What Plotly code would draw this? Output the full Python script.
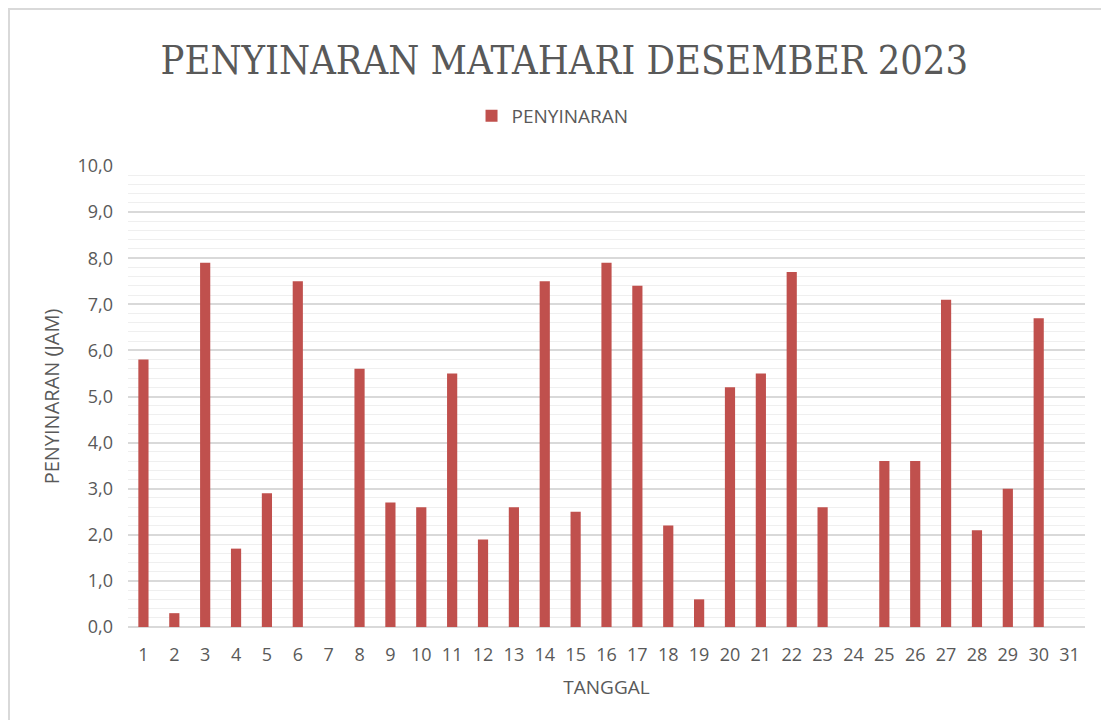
import plotly.graph_objects as go

tanggal = [str(i) for i in range(1, 32)]
penyinaran = [5.8, 0.3, 7.9, 1.7, 2.9, 7.5, None, 5.6, 2.7, 2.6, 5.5, 1.9, 2.6, 7.5, 2.5,
              7.9, 7.4, 2.2, 0.6, 5.2, 5.5, 7.7, 2.6, None, 3.6, 3.6, 7.1, 2.1, 3.0, 6.7, None]
y_ticks = [0, 1, 2, 3, 4, 5, 6, 7, 8, 9, 10]
y_labels = [f"{v},0" for v in y_ticks]

W, H = 1093, 712
L, R, T, B = 120, 16, 158, 93
PW, PH = W - L - R, H - T - B

fig = go.Figure()
fig.add_trace(go.Bar(x=tanggal, y=penyinaran, name="PENYINARAN",
                     marker=dict(color="#C0504D", line=dict(width=0)),
                     width=0.33, showlegend=True))

fig.update_layout(
    width=W, height=H,
    paper_bgcolor="white", plot_bgcolor="white",
    margin=dict(l=L, r=R, t=T, b=B),
    title=dict(text="PENYINARAN MATAHARI DESEMBER 2023", x=0.509, xanchor="center",
               y=1 - 52 / H, yanchor="middle",
               font=dict(family="DejaVu Serif Condensed", size=39.5, color="#595959")),
    legend=dict(orientation="h", x=0.4436, xanchor="center", y=1 + 50 / PH, yanchor="middle",
                font=dict(family="Open Sans", size=19, color="#595959"),
                itemwidth=30),
    font=dict(family="Open Sans", color="#595959"),
    shapes=[dict(type="rect", xref="paper", yref="paper",
                 x0=-(L - 1) / PW, x1=(PW + R + 2) / PW,
                 y0=-(B + 2) / PH, y1=1 + (T - 1) / PH,
                 line=dict(color="#D9D9D9", width=2))],
)
fig.update_xaxes(
    type="category", showgrid=False, showline=False, zeroline=False,
    ticks="outside", ticklen=11, tickcolor="rgba(0,0,0,0)",
    tickfont=dict(size=18, color="#595959"),
    title=dict(text="TANGGAL", font=dict(size=19, color="#595959"), standoff=16),
)
fig.update_yaxes(
    range=[0, 10], tickvals=y_ticks, ticktext=y_labels,
    showgrid=True, gridcolor="#D9D9D9", gridwidth=1.5,
    minor=dict(dtick=0.2, showgrid=True, gridcolor="#EFEFEF", gridwidth=1),
    zeroline=True, zerolinecolor="#D9D9D9", zerolinewidth=1.5,
    showline=False, ticks="", ticklabelstandoff=14,
    tickfont=dict(size=18, color="#595959"),
    title=dict(text="PENYINARAN (JAM)", font=dict(size=20, color="#595959"), standoff=12),
)
fig.write_html("out.html")
